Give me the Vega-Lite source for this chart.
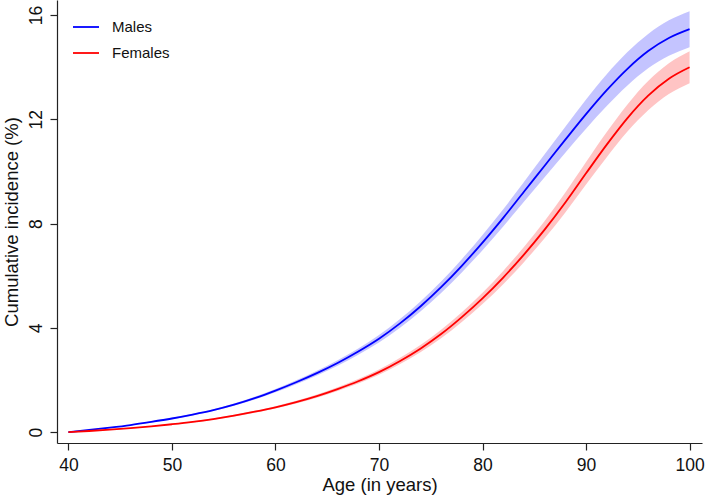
{
  "$schema": "https://vega.github.io/schema/vega-lite/v6.json",
  "width": 645,
  "height": 443,
  "autosize": {"type": "none"},
  "padding": {"left": 57, "top": 0, "right": 3, "bottom": 52},
  "background": "white",
  "config": {
    "view": {"stroke": null},
    "font": "Liberation Sans",
    "axis": {"grid": false, "domainColor": "#222", "tickColor": "#222", "labelColor": "#111", "titleColor": "#111", "labelFont": "Liberation Sans", "titleFont": "Liberation Sans", "titleFontWeight": "normal", "domainWidth": 1.2, "tickWidth": 1.2}
  },
  "data": {"values": [
    {"age":40,"sex":"Males","est":0.00,"lo":0.00,"hi":0.00},
    {"age":42,"sex":"Males","est":0.08,"lo":0.075,"hi":0.085},
    {"age":44,"sex":"Males","est":0.17,"lo":0.16,"hi":0.18},
    {"age":46,"sex":"Males","est":0.27,"lo":0.255,"hi":0.285},
    {"age":48,"sex":"Males","est":0.39,"lo":0.37,"hi":0.41},
    {"age":50,"sex":"Males","est":0.52,"lo":0.495,"hi":0.545},
    {"age":52,"sex":"Males","est":0.67,"lo":0.64,"hi":0.70},
    {"age":54,"sex":"Males","est":0.84,"lo":0.805,"hi":0.875},
    {"age":56,"sex":"Males","est":1.05,"lo":1.005,"hi":1.095},
    {"age":58,"sex":"Males","est":1.30,"lo":1.245,"hi":1.355},
    {"age":60,"sex":"Males","est":1.59,"lo":1.525,"hi":1.655},
    {"age":62,"sex":"Males","est":1.91,"lo":1.835,"hi":1.985},
    {"age":64,"sex":"Males","est":2.26,"lo":2.17,"hi":2.35},
    {"age":66,"sex":"Males","est":2.65,"lo":2.545,"hi":2.755},
    {"age":68,"sex":"Males","est":3.09,"lo":2.97,"hi":3.21},
    {"age":70,"sex":"Males","est":3.58,"lo":3.44,"hi":3.72},
    {"age":72,"sex":"Males","est":4.16,"lo":3.995,"hi":4.325},
    {"age":74,"sex":"Males","est":4.82,"lo":4.63,"hi":5.01},
    {"age":76,"sex":"Males","est":5.56,"lo":5.34,"hi":5.78},
    {"age":78,"sex":"Males","est":6.38,"lo":6.125,"hi":6.635},
    {"age":80,"sex":"Males","est":7.27,"lo":6.98,"hi":7.56},
    {"age":82,"sex":"Males","est":8.22,"lo":7.89,"hi":8.55},
    {"age":84,"sex":"Males","est":9.22,"lo":8.84,"hi":9.60},
    {"age":86,"sex":"Males","est":10.22,"lo":9.78,"hi":10.66},
    {"age":88,"sex":"Males","est":11.22,"lo":10.72,"hi":11.72},
    {"age":90,"sex":"Males","est":12.20,"lo":11.64,"hi":12.76},
    {"age":92,"sex":"Males","est":13.12,"lo":12.51,"hi":13.73},
    {"age":94,"sex":"Males","est":13.94,"lo":13.30,"hi":14.58},
    {"age":96,"sex":"Males","est":14.62,"lo":13.96,"hi":15.28},
    {"age":98,"sex":"Males","est":15.12,"lo":14.44,"hi":15.80},
    {"age":100,"sex":"Males","est":15.46,"lo":14.77,"hi":16.15},
    {"age":40,"sex":"Females","est":0.00,"lo":0.00,"hi":0.00},
    {"age":42,"sex":"Females","est":0.04,"lo":0.037,"hi":0.043},
    {"age":44,"sex":"Females","est":0.09,"lo":0.084,"hi":0.096},
    {"age":46,"sex":"Females","est":0.15,"lo":0.14,"hi":0.16},
    {"age":48,"sex":"Females","est":0.22,"lo":0.207,"hi":0.233},
    {"age":50,"sex":"Females","est":0.30,"lo":0.284,"hi":0.316},
    {"age":52,"sex":"Females","est":0.39,"lo":0.37,"hi":0.41},
    {"age":54,"sex":"Females","est":0.50,"lo":0.475,"hi":0.525},
    {"age":56,"sex":"Females","est":0.63,"lo":0.60,"hi":0.66},
    {"age":58,"sex":"Females","est":0.78,"lo":0.744,"hi":0.816},
    {"age":60,"sex":"Females","est":0.95,"lo":0.907,"hi":0.993},
    {"age":62,"sex":"Females","est":1.15,"lo":1.10,"hi":1.20},
    {"age":64,"sex":"Females","est":1.38,"lo":1.32,"hi":1.44},
    {"age":66,"sex":"Females","est":1.65,"lo":1.58,"hi":1.72},
    {"age":68,"sex":"Females","est":1.95,"lo":1.865,"hi":2.035},
    {"age":70,"sex":"Females","est":2.30,"lo":2.20,"hi":2.40},
    {"age":72,"sex":"Females","est":2.72,"lo":2.60,"hi":2.84},
    {"age":74,"sex":"Females","est":3.20,"lo":3.06,"hi":3.34},
    {"age":76,"sex":"Females","est":3.76,"lo":3.595,"hi":3.925},
    {"age":78,"sex":"Females","est":4.41,"lo":4.22,"hi":4.60},
    {"age":80,"sex":"Females","est":5.13,"lo":4.91,"hi":5.35},
    {"age":82,"sex":"Females","est":5.93,"lo":5.675,"hi":6.185},
    {"age":84,"sex":"Females","est":6.81,"lo":6.52,"hi":7.10},
    {"age":86,"sex":"Females","est":7.77,"lo":7.44,"hi":8.10},
    {"age":88,"sex":"Females","est":8.81,"lo":8.43,"hi":9.19},
    {"age":90,"sex":"Females","est":9.93,"lo":9.50,"hi":10.36},
    {"age":92,"sex":"Females","est":11.03,"lo":10.55,"hi":11.51},
    {"age":94,"sex":"Females","est":12.05,"lo":11.53,"hi":12.57},
    {"age":96,"sex":"Females","est":12.91,"lo":12.35,"hi":13.47},
    {"age":98,"sex":"Females","est":13.56,"lo":12.97,"hi":14.15},
    {"age":100,"sex":"Females","est":14.00,"lo":13.39,"hi":14.61}
  ]},
  "encoding": {
    "x": {"field": "age", "type": "quantitative",
      "scale": {"domain": [38.9, 101.2], "nice": false, "zero": false},
      "axis": {"title": "Age (in years)", "values": [40,50,60,70,80,90,100], "labelFontSize": 17.5, "titleFontSize": 18.5, "tickSize": 7, "labelPadding": 6, "titlePadding": 2}}
  },
  "layer": [
    {
      "transform": [{"filter": "datum.sex === 'Males'"}],
      "mark": {"type": "area", "opacity": 0.23, "interpolate": "monotone", "fill": "#0000ff"},
      "encoding": {
        "y": {"field": "lo", "type": "quantitative"},
        "y2": {"field": "hi"}
      }
    },
    {
      "transform": [{"filter": "datum.sex === 'Females'"}],
      "mark": {"type": "area", "opacity": 0.23, "interpolate": "monotone", "fill": "#ff0000"},
      "encoding": {
        "y": {"field": "lo", "type": "quantitative"},
        "y2": {"field": "hi"}
      }
    },
    {
      "mark": {"type": "line", "strokeWidth": 1.8, "interpolate": "monotone"},
      "encoding": {
        "y": {"field": "est", "type": "quantitative",
          "scale": {"domain": [-0.42, 16.58], "nice": false, "zero": false},
          "axis": {"title": "Cumulative incidence (%)", "values": [0,4,8,12,16], "labelAngle": -90, "labelAlign": "center", "labelBaseline": "bottom", "labelFontSize": 17.5, "titleFontSize": 18.5, "tickSize": 7, "labelPadding": 5, "titlePadding": 6}},
        "color": {"field": "sex", "type": "nominal", "scale": {"domain": ["Males","Females"], "range": ["#0000ff","#ff0000"]},
          "legend": {"title": null, "orient": "none", "legendX": 15, "legendY": 13, "symbolType": "stroke", "symbolSize": 676, "symbolStrokeWidth": 1.8, "labelFontSize": 15, "labelOffset": 12, "rowPadding": 4, "padding": 0, "labelFont": "Liberation Sans", "labelColor": "#111"}}
      }
    }
  ]
}
